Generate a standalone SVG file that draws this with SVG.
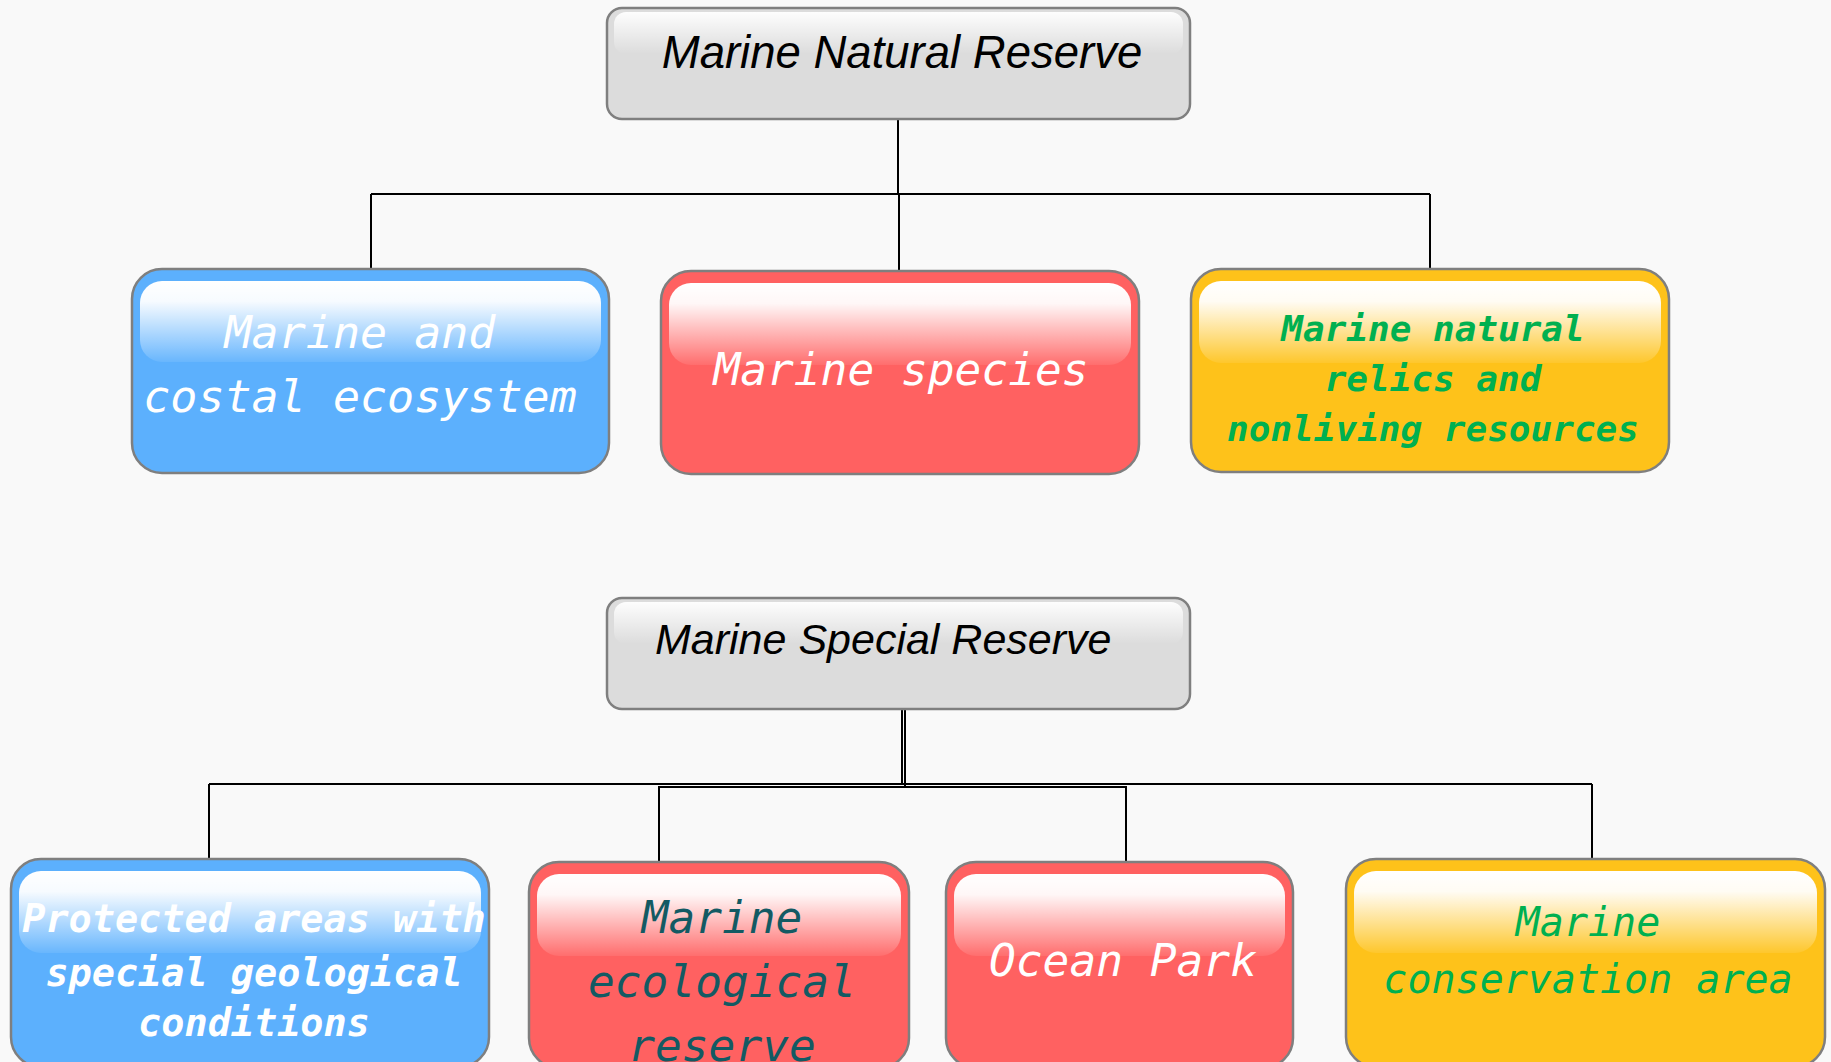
<svg xmlns="http://www.w3.org/2000/svg" width="1831" height="1062" viewBox="0 0 1831 1062">
<style>
.box{stroke:#7f7f7f;stroke-width:2.5}
.gray{fill:#dcdcdc}
.blue{fill:#5cb0fd}
.red{fill:#ff6161}
.yellow{fill:#fec21a}
.gloss{fill:url(#gloss)}
.glossg{fill:url(#glossg)}
.conn{fill:none;stroke:#000;stroke-width:2}
.title{font-family:"Liberation Sans",Arial,sans-serif;font-style:italic;fill:#000}
.mono{font-family:"DejaVu Sans Mono","Liberation Mono",monospace;font-style:italic}
</style>
<defs>
<linearGradient id="gloss" x1="0" y1="0" x2="0" y2="1">
<stop offset="0" stop-color="#fff" stop-opacity="1"/>
<stop offset="0.25" stop-color="#fff" stop-opacity="0.95"/>
<stop offset="1" stop-color="#fff" stop-opacity="0.08"/>
</linearGradient>
<linearGradient id="glossg" x1="0" y1="0" x2="0" y2="1">
<stop offset="0" stop-color="#fff" stop-opacity="0.95"/>
<stop offset="1" stop-color="#fff" stop-opacity="0"/>
</linearGradient>
</defs>
<rect width="1831" height="1062" fill="#f9f9f9"/>
<g id="connectors">
<path class="conn" d="M898 119V194M371 194H1430M371 194V269M899 194V271M1430 194V269"/>
<path class="conn" d="M902 709V784M209 784H1592M209 784V859M1592 784V859"/>
<path class="conn" d="M905 709V787H1126V862M905 787H659V864"/>
</g>
<g id="n-natural">
<rect class="box gray" x="607" y="8" width="583" height="111" rx="15"/>
<rect class="glossg" x="614" y="12" width="569" height="42" rx="12"/>
<text class="title" x="902" y="68" font-size="45.5" text-anchor="middle">Marine Natural Reserve</text>
</g>
<g id="n-ecosystem">
<rect class="box blue" x="132" y="269" width="477" height="204" rx="30"/>
<rect class="gloss" x="140" y="281" width="461" height="81" rx="22"/>
<text class="mono" font-size="45" fill="#fff" text-anchor="middle"><tspan x="360" y="348">Marine and</tspan><tspan x="360" y="412">costal ecosystem</tspan></text>
</g>
<g id="n-species">
<rect class="box red" x="661" y="271" width="478" height="203" rx="30"/>
<rect class="gloss" x="669" y="283" width="462" height="82" rx="22"/>
<text class="mono" x="901" y="385" font-size="44.5" fill="#fff" text-anchor="middle">Marine species</text>
</g>
<g id="n-relics">
<rect class="box yellow" x="1191" y="269" width="478" height="203" rx="30"/>
<rect class="gloss" x="1199" y="281" width="462" height="82" rx="22"/>
<text class="mono" font-size="36" font-weight="bold" fill="#00b050" text-anchor="middle"><tspan x="1433" y="341">Marine natural</tspan><tspan x="1433" y="391">relics and</tspan><tspan x="1433" y="441">nonliving resources</tspan></text>
</g>
<g id="n-special">
<rect class="box gray" x="607" y="598" width="583" height="111" rx="15"/>
<rect class="glossg" x="614" y="602" width="569" height="42" rx="12"/>
<text class="title" x="655" y="654" font-size="43">Marine Special Reserve</text>
</g>
<g id="n-protected">
<rect class="box blue" x="11" y="859" width="478" height="208" rx="30"/>
<rect class="gloss" x="19" y="871" width="462" height="82" rx="22"/>
<text class="mono" font-size="38.5" font-weight="bold" fill="#fff" text-anchor="middle"><tspan x="254" y="932">Protected areas with</tspan><tspan x="254" y="986">special geological</tspan><tspan x="254" y="1036">conditions</tspan></text>
</g>
<g id="n-ecological">
<rect class="box red" x="529" y="862" width="380" height="206" rx="30"/>
<rect class="gloss" x="537" y="874" width="364" height="82" rx="22"/>
<text class="mono" font-size="44.5" fill="#135a63" text-anchor="middle"><tspan x="722" y="933">Marine</tspan><tspan x="722" y="997">ecological</tspan><tspan x="722" y="1061">reserve</tspan></text>
</g>
<g id="n-ocean">
<rect class="box red" x="946" y="862" width="347" height="206" rx="30"/>
<rect class="gloss" x="954" y="874" width="331" height="82" rx="22"/>
<text class="mono" x="1123" y="976" font-size="44.5" fill="#fff" text-anchor="middle">Ocean Park</text>
</g>
<g id="n-conservation">
<rect class="box yellow" x="1346" y="859" width="479" height="208" rx="30"/>
<rect class="gloss" x="1354" y="871" width="463" height="82" rx="22"/>
<text class="mono" font-size="40" fill="#00b050" text-anchor="middle"><tspan x="1588" y="936">Marine</tspan><tspan x="1588" y="993">conservation area</tspan></text>
</g>
</svg>
